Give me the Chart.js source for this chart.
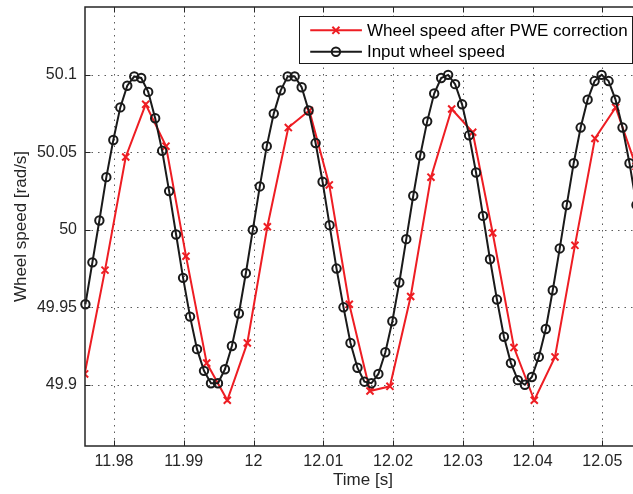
<!DOCTYPE html>
<html>
<head>
<meta charset="utf-8">
<script src="https://cdn.jsdelivr.net/npm/chart.js@4.4.1/dist/chart.umd.min.js"></script>
<style>
  html, body { margin: 0; padding: 0; background: #fff; overflow: hidden; }
  #wrap { width: 633px; height: 494px; overflow: hidden; }
</style>
</head>
<body>
<div id="wrap"><canvas id="speedChart" width="660" height="494"></canvas></div>
<script>
// input wheel speed, one sample per ms
const inputTime = [
  11.9759, 11.9769, 11.9779, 11.9789, 11.9799, 11.9809, 11.9819, 11.9829, 11.9839, 11.9849,
  11.9859, 11.9869, 11.9879, 11.9889, 11.9899, 11.9909, 11.9919, 11.9929, 11.9939, 11.9949,
  11.9959, 11.9969, 11.9979, 11.9989, 11.9999, 12.0009, 12.0019, 12.0029, 12.0039, 12.0049,
  12.0059, 12.0069, 12.0079, 12.0089, 12.0099, 12.0109, 12.0119, 12.0129, 12.0139, 12.0149,
  12.0159, 12.0169, 12.0179, 12.0189, 12.0199, 12.0209, 12.0219, 12.0229, 12.0239, 12.0249,
  12.0259, 12.0269, 12.0279, 12.0289, 12.0299, 12.0309, 12.0319, 12.0329, 12.0339, 12.0349,
  12.0359, 12.0369, 12.0379, 12.0389, 12.0399, 12.0409, 12.0419, 12.0429, 12.0439, 12.0449,
  12.0459, 12.0469, 12.0479, 12.0489, 12.0499, 12.0509, 12.0519, 12.0529, 12.0539, 12.0549
];
const inputSpeed = [
  49.952, 49.979, 50.006, 50.034, 50.058, 50.079, 50.093, 50.099, 50.098, 50.089,
  50.072, 50.051, 50.025, 49.997, 49.969, 49.944, 49.923, 49.909, 49.901, 49.901,
  49.910, 49.925, 49.946, 49.972, 50.000, 50.028, 50.054, 50.075, 50.090, 50.099,
  50.099, 50.092, 50.077, 50.056, 50.031, 50.003, 49.975, 49.950, 49.927, 49.911,
  49.902, 49.901, 49.907, 49.921, 49.941, 49.966, 49.994, 50.022, 50.048, 50.070,
  50.088, 50.098, 50.100, 50.094, 50.081, 50.061, 50.037, 50.009, 49.981, 49.955,
  49.931, 49.914, 49.903, 49.900, 49.905, 49.918, 49.936, 49.961, 49.988, 50.016,
  50.043, 50.066, 50.084, 50.096, 50.100, 50.096, 50.084, 50.066, 50.043, 50.016
];

// corrected speed (coarser samples)
const pweTime = [
  11.97579, 11.97871, 11.98168, 11.98454, 11.98745, 11.99032, 11.99329, 11.99624, 11.99911, 12.00198,
  12.00499, 12.00800, 12.01086, 12.01373, 12.01670, 12.01956, 12.02253, 12.02544, 12.02841, 12.03142,
  12.03429, 12.03734, 12.04025, 12.04322, 12.04608, 12.04895, 12.05192, 12.05484
];
const pweSpeed = [
  49.907, 49.974, 50.047, 50.081, 50.054, 49.983, 49.914, 49.890, 49.927, 50.002,
  50.066, 50.077, 50.029, 49.952, 49.896, 49.899, 49.957, 50.034, 50.078, 50.063,
  49.998, 49.924, 49.890, 49.918, 49.990, 50.059, 50.079, 50.041
];

const xTicks = [11.98, 11.99, 12, 12.01, 12.02, 12.03, 12.04, 12.05];
const yTicks = [49.9, 49.95, 50, 50.05, 50.1];
const seriesLabels = ['Wheel speed after PWE correction', 'Input wheel speed'];

const FONT = '"Liberation Sans", Arial, Helvetica, sans-serif';
const INK = '#262626';
const RED = '#ee1d23';
const BLACK = '#1a1a1a';

// grid, box, inward ticks and legend, drawn the matlab way
const matlabFrame = {
  id: 'matlabFrame',
  beforeDatasetsDraw(chart) {
    const { ctx, chartArea: a, scales: { x, y } } = chart;
    ctx.save();
    ctx.beginPath();
    ctx.rect(a.left, a.top, a.right - a.left, a.bottom - a.top);
    ctx.clip();
    ctx.strokeStyle = 'rgba(38,38,38,0.75)';
    ctx.lineWidth = 1;
    ctx.setLineDash([1.5, 5]);
    x.ticks.forEach(t => {
      const px = Math.round(x.getPixelForValue(t.value)) + 0.5;
      ctx.beginPath(); ctx.moveTo(px, a.bottom); ctx.lineTo(px, a.top); ctx.stroke();
    });
    y.ticks.forEach(t => {
      const py = Math.round(y.getPixelForValue(t.value)) + 0.5;
      ctx.beginPath(); ctx.moveTo(a.left, py); ctx.lineTo(a.right, py); ctx.stroke();
    });
    ctx.restore();
  },
  afterDatasetsDraw(chart) {
    const { ctx, chartArea: a, scales: { x, y } } = chart;
    ctx.save();
    ctx.strokeStyle = INK;
    ctx.lineWidth = 1;
    const tl = 5.5;
    x.ticks.forEach(t => {
      const px = Math.round(x.getPixelForValue(t.value)) + 0.5;
      ctx.beginPath();
      ctx.moveTo(px, a.bottom); ctx.lineTo(px, a.bottom - tl);
      ctx.moveTo(px, a.top); ctx.lineTo(px, a.top + tl);
      ctx.stroke();
    });
    y.ticks.forEach(t => {
      const py = Math.round(y.getPixelForValue(t.value)) + 0.5;
      ctx.beginPath();
      ctx.moveTo(a.left, py); ctx.lineTo(a.left + tl, py);
      ctx.moveTo(a.right, py); ctx.lineTo(a.right - tl, py);
      ctx.stroke();
    });
    ctx.lineWidth = 1.5;
    ctx.strokeRect(a.left, a.top, a.right - a.left, a.bottom - a.top);

    // legend box, top right inside the axes
    const ds = chart.data.datasets;
    ctx.font = '17px ' + FONT;
    const textW = Math.max(...ds.map(d => ctx.measureText(d.label).width));
    const right = a.right - 9;
    const top = a.top + 9;
    const left = right - (68 + textW + 4);
    const rowH = 21.4;
    const h = 14.3 + rowH + 11.6;
    ctx.fillStyle = '#fff';
    ctx.fillRect(left, top, right - left, h);
    ctx.strokeStyle = BLACK;
    ctx.lineWidth = 1;
    ctx.strokeRect(Math.round(left) + 0.5, Math.round(top) + 0.5, Math.round(right - left), Math.round(h));
    ds.forEach((d, i) => {
      const cy = top + 14.3 + i * rowH;
      ctx.strokeStyle = d.borderColor;
      ctx.lineWidth = d.borderWidth;
      ctx.beginPath(); ctx.moveTo(left + 11, cy); ctx.lineTo(left + 62.7, cy); ctx.stroke();
      ctx.fillStyle = 'rgba(0,0,0,0)';
      Chart.helpers.drawPoint(ctx, {
        pointStyle: d.pointStyle, radius: d.pointRadius,
        borderWidth: d.pointBorderWidth, rotation: 0
      }, left + 36.7, cy);
      ctx.fillStyle = '#000';
      ctx.textAlign = 'left';
      ctx.textBaseline = 'middle';
      ctx.fillText(d.label, left + 67.7, cy + 1);
    });
    ctx.restore();
  }
};

function noPad(s) {
  s.paddingLeft = 0; s.paddingRight = 0; s.paddingTop = 0; s.paddingBottom = 0;
}

new Chart(document.getElementById('speedChart'), {
  type: 'line',
  data: {
    datasets: [{
      label: seriesLabels[0],
      data: pweTime.map((t, i) => ({ x: t, y: pweSpeed[i] })),
      borderColor: RED,
      backgroundColor: RED,
      borderWidth: 2,
      pointStyle: 'crossRot',
      pointRadius: 5,
      pointBorderWidth: 2,
      pointBorderColor: RED,
      tension: 0,
      order: 2,
      clip: 0
    }, {
      label: seriesLabels[1],
      data: inputTime.map((t, i) => ({ x: t, y: inputSpeed[i] })),
      borderColor: BLACK,
      backgroundColor: BLACK,
      borderWidth: 2,
      pointStyle: 'circle',
      pointRadius: 4.2,
      pointBorderWidth: 2,
      pointBorderColor: BLACK,
      pointBackgroundColor: 'rgba(0,0,0,0)',
      tension: 0,
      order: 1,
      clip: false
    }]
  },
  options: {
    responsive: false,
    animation: false,
    devicePixelRatio: 1,
    events: [],
    layout: { padding: { top: 6, right: 19, left: 0, bottom: 0 } },
    plugins: { legend: { display: false }, tooltip: { enabled: false } },
    scales: {
      x: {
        type: 'linear',
        min: 11.97584,
        max: 12.05555,
        afterBuildTicks: s => { s.ticks = xTicks.map(v => ({ value: v })); },
        afterFit: s => { s.height = 48; noPad(s); },
        grid: { display: false, drawTicks: false },
        border: { display: false },
        ticks: { padding: 6, color: INK, font: { family: FONT, size: 16 }, callback: v => String(v), maxRotation: 0 },
        title: { display: true, text: 'Time [s]', color: INK, font: { family: FONT, size: 17 }, padding: { top: 0, bottom: 3 } }
      },
      y: {
        type: 'linear',
        min: 49.8605,
        max: 50.1438,
        afterBuildTicks: s => { s.ticks = yTicks.map(v => ({ value: v })); },
        afterFit: s => { s.width = 85; noPad(s); },
        grid: { display: false, drawTicks: false },
        border: { display: false },
        ticks: { padding: 8, color: INK, font: { family: FONT, size: 16 }, callback: v => String(v) },
        title: { display: true, text: 'Wheel speed [rad/s]', color: INK, font: { family: FONT, size: 17 }, padding: { top: 11, bottom: 0 } }
      }
    }
  },
  plugins: [matlabFrame]
});
</script>
</body>
</html>
